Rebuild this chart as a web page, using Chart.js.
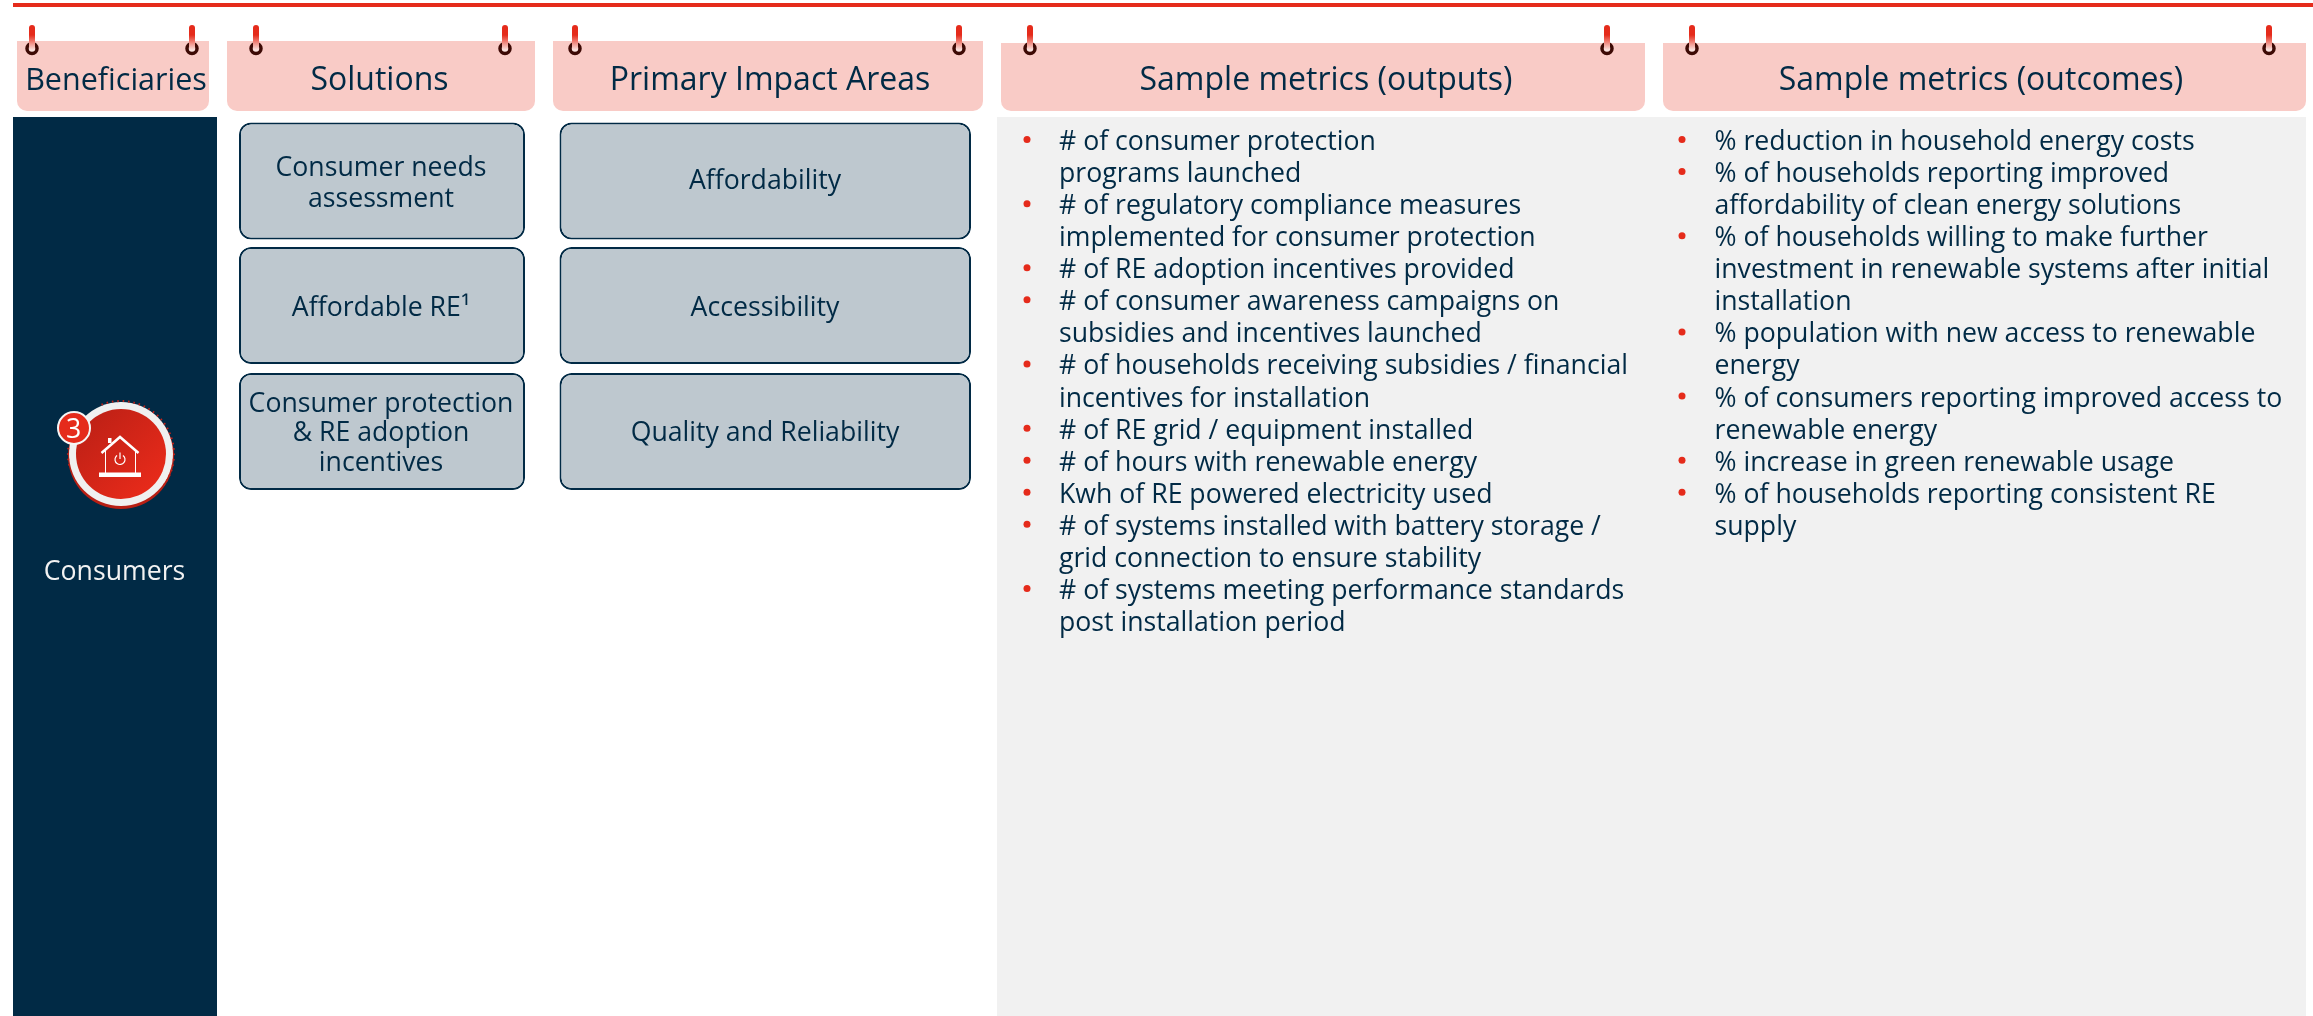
<!DOCTYPE html>
<html>
<head>
<meta charset="utf-8">
<title>Consumers metrics</title>
<style>
	html, body { margin: 0; padding: 0; background: #fff; }
	canvas { display: block; }
</style>
<script src="https://cdn.jsdelivr.net/npm/chart.js@4"></script>
</head>
<body>
<canvas id="chart" width="2313" height="1016"></canvas>
<script>
const columnTitles = [
	"Beneficiaries",
	"Solutions",
	"Primary Impact Areas",
	"Sample metrics (outputs)",
	"Sample metrics (outcomes)",
];
const beneficiary = "Consumers";
const beneficiaryNumber = "3";
const solutions = [
	["Consumer needs", "assessment"],
	["Affordable RE\u00b9"],
	["Consumer protection", "& RE adoption", "incentives"],
];
const impactAreas = ["Affordability", "Accessibility", "Quality and Reliability"];
const outputMetrics = [
	["# of consumer protection", "programs launched"],
	["# of regulatory compliance measures", "implemented for consumer protection"],
	["# of RE adoption incentives provided"],
	["# of consumer awareness campaigns on", "subsidies and incentives launched"],
	["# of households receiving subsidies / financial", "incentives for installation"],
	["# of RE grid / equipment installed"],
	["# of hours with renewable energy"],
	["Kwh of RE powered electricity used"],
	["# of systems installed with battery storage /", "grid connection to ensure stability"],
	["# of systems meeting performance standards", "post installation period"],
];
const outcomeMetrics = [
	["% reduction in household energy costs"],
	["% of households reporting improved", "affordability of clean energy solutions"],
	["% of households willing to make further", "investment in renewable systems after initial", "installation"],
	["% population with new access to renewable", "energy"],
	["% of consumers reporting improved access to", "renewable energy"],
	["% increase in green renewable usage"],
	["% of households reporting consistent RE", "supply"],
];

// layout of the page, the scales below run 1:1 with the pixels
const NAVY = "#012a45";
const RED = "#e52b1b";
const FONT = '"Open Sans"';
const headerSpans = [[17, 209], [227, 535], [553, 983], [1001, 1645], [1663, 2306]];
const headerCenters = [116, 379.5, 770, 1326, 1981];
const headerFontSizes = [30.5, 32, 32, 32, 32];
const pegXs = [[32, 192], [256, 505], [575, 959], [1030, 1607], [1692, 2269]];
const boxRowYs = [181, 305.5, 431.5];
const boxBaselines = [[175.5, 207], [315.5], [411.5, 441, 470.5]];
const impactBaselines = [189, 315.5, 441];
const LINE_STEP = 32.07;
const FIRST_BASELINE = 150;
const BULLET_Y = 139.5;

const bulletPoints = (items, x) => {
	let points = [];
	let line = 0;
	items.forEach((item) => {
		points.push({ x: x, y: BULLET_Y + line * LINE_STEP });
		line += item.length;
	});
	return points;
};

const barDefaults = {
	type: "bar",
	grouped: false,
	inflateAmount: 0,
	borderSkipped: false,
};
const headerRadius = { topLeft: 0, topRight: 0, bottomLeft: 10, bottomRight: 10 };

const diagramPlugin = {
	id: "diagram",
	afterDatasetsDraw(chart) {
		const ctx = chart.ctx;
		const px = (v) => chart.scales.x.getPixelForValue(v);
		const py = (v) => chart.scales.y.getPixelForValue(v);

		ctx.save();

		// red pegs on the header tabs
		pegXs.flat().forEach((x) => {
			const grad = ctx.createLinearGradient(0, py(25), 0, py(50));
			grad.addColorStop(0, RED);
			grad.addColorStop(0.4, RED);
			grad.addColorStop(1, "#fbe3df");
			ctx.fillStyle = grad;
			ctx.beginPath();
			ctx.roundRect(px(x - 3), py(25), 6, 25, [3, 3, 2, 2]);
			ctx.fill();
		});

		// texts
		ctx.textBaseline = "alphabetic";
		ctx.fillStyle = NAVY;
		ctx.textAlign = "center";
		columnTitles.forEach((title, i) => {
			ctx.font = headerFontSizes[i] + "px " + FONT;
			ctx.fillText(title, px(headerCenters[i]), py(89.5));
		});

		ctx.font = "26.67px " + FONT;
		solutions.forEach((lines, i) => {
			lines.forEach((line, j) => {
				ctx.fillText(line, px(381), py(boxBaselines[i][j]));
			});
		});
		impactAreas.forEach((area, i) => {
			ctx.fillText(area, px(765), py(impactBaselines[i]));
		});

		ctx.fillStyle = "#f2f2f2";
		ctx.fillText(beneficiary, px(114.5), py(579.5));

		ctx.fillStyle = NAVY;
		ctx.textAlign = "left";
		const drawList = (items, x) => {
			items.flat().forEach((line, i) => {
				ctx.fillText(line, px(x), py(FIRST_BASELINE + i * LINE_STEP));
			});
		};
		drawList(outputMetrics, 1059);
		drawList(outcomeMetrics, 1714.5);

		// house badge
		const cx = px(121);
		const cy = py(454);
		ctx.fillStyle = "#b81f14";
		ctx.beginPath();
		ctx.arc(cx, cy + 2, 53, 0, Math.PI * 2);
		ctx.fill();
		ctx.fillStyle = "#f0f0f0";
		ctx.beginPath();
		ctx.arc(cx, cy, 52, 0, Math.PI * 2);
		ctx.fill();
		ctx.strokeStyle = "#c0231a";
		ctx.lineWidth = 2;
		ctx.setLineDash([1.6, 3.8]);
		ctx.beginPath();
		ctx.arc(cx, cy, 53, -Math.PI * 0.62, Math.PI * 0.2);
		ctx.stroke();
		ctx.beginPath();
		ctx.arc(cx, cy, 53, Math.PI * 0.93, Math.PI * 1.1);
		ctx.stroke();
		ctx.setLineDash([]);
		const disc = ctx.createLinearGradient(cx - 32, cy - 32, cx + 32, cy + 32);
		disc.addColorStop(0, "#c02116");
		disc.addColorStop(1, "#e72a1a");
		ctx.fillStyle = disc;
		ctx.beginPath();
		ctx.arc(cx, cy, 45, 0, Math.PI * 2);
		ctx.fill();

		// house
		ctx.strokeStyle = "#fff";
		ctx.fillStyle = "#fff";
		ctx.lineCap = "butt";
		ctx.lineWidth = 2.5;
		ctx.beginPath();
		ctx.moveTo(px(101.5), py(453));
		ctx.lineTo(px(120), py(437));
		ctx.lineTo(px(138.5), py(453));
		ctx.stroke();
		ctx.fillRect(px(108), py(438), 3.5, 5);
		ctx.lineWidth = 1;
		ctx.beginPath();
		ctx.moveTo(px(105.5), py(450));
		ctx.lineTo(px(105.5), py(473));
		ctx.moveTo(px(135.5), py(450));
		ctx.lineTo(px(135.5), py(473));
		ctx.stroke();
		ctx.fillRect(px(99), py(472.5), 42, 4.5);
		ctx.lineWidth = 1.2;
		ctx.beginPath();
		ctx.arc(px(120), py(459.5), 5, -Math.PI * 0.3, Math.PI * 1.3);
		ctx.moveTo(px(120), py(452.5));
		ctx.lineTo(px(120), py(459));
		ctx.stroke();

		// number badge
		ctx.fillStyle = RED;
		ctx.strokeStyle = "#f5f5f5";
		ctx.lineWidth = 2;
		ctx.beginPath();
		ctx.arc(px(74), py(428), 16, 0, Math.PI * 2);
		ctx.fill();
		ctx.stroke();
		ctx.fillStyle = "#fff";
		ctx.textAlign = "center";
		ctx.font = "26.67px " + FONT;
		ctx.fillText(beneficiaryNumber, px(73.5), py(437.5));

		ctx.restore();
	},
};

const ctx = document.getElementById("chart");

const chart = new Chart(ctx, {
	type: "bar",
	data: {
		datasets: [
			{
				type: "scatter",
				order: 1,
				data: bulletPoints(outputMetrics, 1027).concat(bulletPoints(outcomeMetrics, 1682)),
				showLine: false,
				pointRadius: 3.5,
				pointBorderWidth: 0,
				pointBackgroundColor: RED,
			},
			{
				type: "scatter",
				order: 2,
				data: pegXs.flat().map((x) => ({ x: x, y: 48.5 })),
				showLine: false,
				pointRadius: 5,
				pointBorderWidth: 3.5,
				pointBorderColor: "#3d0a05",
				pointBackgroundColor: "#fbe3df",
			},
			{
				...barDefaults,
				order: 3,
				data: boxRowYs.map((y) => ({ x: [239, 525], y: y })).concat(boxRowYs.map((y) => ({ x: [559.5, 971], y: y }))),
				barThickness: 117,
				backgroundColor: "#bec8cf",
				borderColor: NAVY,
				borderWidth: 2,
				borderRadius: 12,
			},
			{
				...barDefaults,
				order: 4,
				data: headerSpans.slice(0, 3).map((span) => ({ x: span, y: 76 })),
				barThickness: 70,
				backgroundColor: "#f9cbc6",
				borderRadius: headerRadius,
			},
			{
				...barDefaults,
				order: 4,
				data: headerSpans.slice(3).map((span) => ({ x: span, y: 77 })),
				barThickness: 68,
				backgroundColor: "#f9cbc6",
				borderRadius: headerRadius,
			},
			{
				...barDefaults,
				order: 5,
				data: [{ x: [13, 217], y: 566.5 }],
				barThickness: 899,
				backgroundColor: NAVY,
			},
			{
				...barDefaults,
				order: 5,
				data: [{ x: [997, 2306], y: 566.5 }],
				barThickness: 899,
				backgroundColor: "#f1f1f1",
			},
			{
				...barDefaults,
				order: 5,
				data: [{ x: [13, 2313], y: 5 }],
				barThickness: 4,
				backgroundColor: RED,
			},
		],
	},
	options: {
		responsive: false,
		animation: false,
		events: [],
		indexAxis: "y",
		layout: { padding: 0, autoPadding: false },
		plugins: {
			legend: { display: false },
			tooltip: { enabled: false },
		},
		scales: {
			x: { type: "linear", min: 0, max: 2313, display: false, offset: false },
			y: { type: "linear", min: 0, max: 1016, reverse: true, display: false, offset: false },
		},
	},
	plugins: [diagramPlugin],
});
</script>
</body>
</html>
